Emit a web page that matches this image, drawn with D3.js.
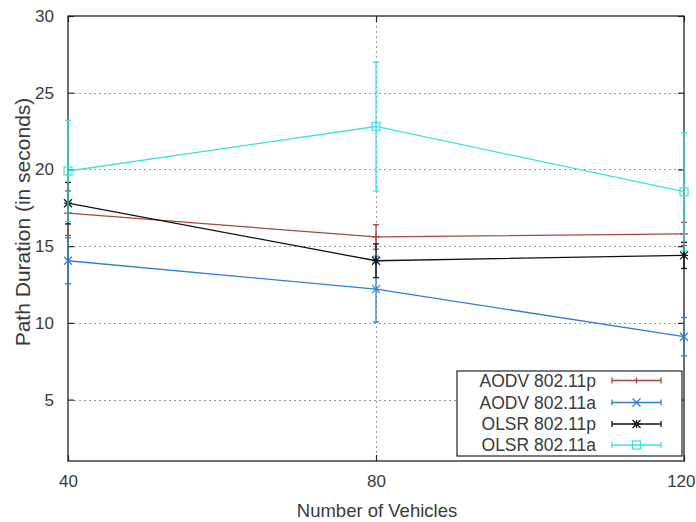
<!DOCTYPE html>
<html>
<head>
<meta charset="utf-8">
<script src="https://cdn.jsdelivr.net/npm/d3@7"></script>
<style>
  html, body { margin: 0; padding: 0; background: #fff; }
  svg { display: block; }
  text { font-family: "Liberation Sans", Arial, sans-serif; fill: #3a3a3a; }
</style>
</head>
<body>
<script>
// ---- data ----
const vehicles = [40, 80, 120];
const xTicks = [40, 80, 120];
const yTicks = [5, 10, 15, 20, 25, 30];
const seriesNames = ["AODV 802.11p", "AODV 802.11a", "OLSR 802.11p", "OLSR 802.11a"];
const aodvP = [17.15, 15.6, 15.8];
const aodvPErr = [1.45, 0.8, 0.75];
const aodvA = [14.05, 12.2, 9.1];
const aodvAErr = [1.5, 2.15, 1.25];
const olsrP = [17.8, 14.05, 14.4];
const olsrPErr = [1.35, 1.1, 0.85];
const olsrA = [19.9, 22.8, 18.55];
const olsrAErr = [3.3, 4.2, 3.85];
const colors = ["#a9463f", "#2f7fd6", "#111111", "#3ee0e0"];
const markers = ["plus", "cross", "star", "square"];

const series = [
  { name: seriesNames[0], values: aodvP, errs: aodvPErr, color: colors[0], marker: markers[0] },
  { name: seriesNames[1], values: aodvA, errs: aodvAErr, color: colors[1], marker: markers[1] },
  { name: seriesNames[2], values: olsrP, errs: olsrPErr, color: colors[2], marker: markers[2] },
  { name: seriesNames[3], values: olsrA, errs: olsrAErr, color: colors[3], marker: markers[3] }
];

const W = 696, H = 522;
const L = 68, R = 684, T = 16, B = 461;

const svg = d3.select("body").append("svg").attr("width", W).attr("height", H);

const x = d3.scaleLinear().domain([40, 120]).range([L, R]);
const y = d3.scaleLinear().domain([1, 30]).range([B, T]);

// legend box geometry
const lg = { x0: 457, y0: 371, x1: 682, y1: 456 };

// grid
const grid = svg.append("g").attr("stroke", "#9a9a9a").attr("stroke-width", 1).attr("stroke-dasharray", "2,3");
yTicks.forEach(t => {
  const yy = Math.round(y(t)) + 0.5;
  if (t === 30) return;
  let xEnd = R;
  if (yy > lg.y0 && yy < lg.y1) xEnd = lg.x0;
  grid.append("line").attr("x1", L + 6).attr("x2", xEnd).attr("y1", yy).attr("y2", yy);
});
xTicks.forEach(t => {
  if (t === 40 || t === 120) return;
  const xx = Math.round(x(t)) + 0.5;
  grid.append("line").attr("x1", xx).attr("x2", xx).attr("y1", T).attr("y2", B - 6);
});

// axes via d3 axis (tick labels), inward tick marks drawn with axes too
const yAxisL = d3.axisLeft(y).tickValues(yTicks).tickSize(-6).tickPadding(14);
const gyl = svg.append("g").attr("transform", `translate(${L},0)`).call(yAxisL);
const yAxisR = d3.axisRight(y).tickValues(yTicks).tickSize(-6).tickFormat("");
const gyr = svg.append("g").attr("transform", `translate(${R},0)`).call(yAxisR);
const xAxisB = d3.axisBottom(x).tickValues(xTicks).tickSize(-6).tickPadding(20);
const gxb = svg.append("g").attr("transform", `translate(0,${B})`).call(xAxisB);
const xAxisT = d3.axisTop(x).tickValues(xTicks).tickSize(-6).tickFormat("");
const gxt = svg.append("g").attr("transform", `translate(0,${T})`).call(xAxisT);
[gyl, gyr, gxb, gxt].forEach(g => {
  g.select(".domain").remove();
  g.selectAll(".tick line").attr("stroke", "#222").attr("stroke-width", 1.2);
  g.selectAll("text").style("font-family", '"Liberation Sans", Arial, sans-serif')
    .style("font-size", "17px").attr("fill", "#3a3a3a");
});
gxb.selectAll("text").attr("dy", "0.71em").attr("y", 14);
// keep the last label inside the window
gxb.selectAll(".tick").filter(d => d === 120).select("text")
  .attr("text-anchor", "end").attr("x", W - 1 - x(120));

// plot border
svg.append("rect").attr("x", L).attr("y", T).attr("width", R - L).attr("height", B - T)
  .attr("fill", "none").attr("stroke", "#222").attr("stroke-width", 1.3);

// axis titles
svg.append("text").attr("x", 377).attr("y", 517).attr("text-anchor", "middle")
  .style("font-size", "18.5px").text("Number of Vehicles");
svg.append("text").attr("transform", "translate(30,222) rotate(-90)").attr("text-anchor", "middle")
  .style("font-size", "21px").text("Path Duration (in seconds)");

// marker drawing
function drawMarker(g, m, cx, cy, color) {
  const s = 4;
  const p = g.append("g").attr("stroke", color).attr("stroke-width", 1.2).attr("fill", "none");
  if (m === "plus" || m === "star") {
    p.append("line").attr("x1", cx - s).attr("x2", cx + s).attr("y1", cy).attr("y2", cy);
    p.append("line").attr("x1", cx).attr("x2", cx).attr("y1", cy - s).attr("y2", cy + s);
  }
  if (m === "cross" || m === "star") {
    p.append("line").attr("x1", cx - s).attr("x2", cx + s).attr("y1", cy - s).attr("y2", cy + s);
    p.append("line").attr("x1", cx - s).attr("x2", cx + s).attr("y1", cy + s).attr("y2", cy - s);
  }
  if (m === "square") {
    p.append("rect").attr("x", cx - 4).attr("y", cy - 4).attr("width", 8).attr("height", 8);
  }
}

const plot = svg.append("g");
series.forEach(s => {
  const g = plot.append("g");
  // error bars
  s.values.forEach((v, i) => {
    const xx = x(vehicles[i]);
    const y1 = y(v - s.errs[i]), y2 = y(v + s.errs[i]);
    g.append("line").attr("x1", xx).attr("x2", xx).attr("y1", y1).attr("y2", y2)
      .attr("stroke", s.color).attr("stroke-width", 1.3);
    [y1, y2].forEach(yy => {
      g.append("line").attr("x1", xx - 3).attr("x2", xx + 3).attr("y1", yy).attr("y2", yy)
        .attr("stroke", s.color).attr("stroke-width", 1.3);
    });
  });
  // line
  const line = d3.line().x((d, i) => x(vehicles[i])).y(d => y(d));
  g.append("path").datum(s.values).attr("d", line).attr("fill", "none")
    .attr("stroke", s.color).attr("stroke-width", 1.3);
  s.values.forEach((v, i) => drawMarker(g, s.marker, x(vehicles[i]), y(v), s.color));
});

// legend
const leg = svg.append("g");
leg.append("rect").attr("x", lg.x0).attr("y", lg.y0).attr("width", lg.x1 - lg.x0).attr("height", lg.y1 - lg.y0)
  .attr("fill", "#fff").attr("stroke", "#222").attr("stroke-width", 1.2);
const rowY = [380.5, 402.5, 424, 445];
series.forEach((s, i) => {
  const ry = rowY[i];
  leg.append("text").attr("x", 596).attr("y", ry + 6).attr("text-anchor", "end")
    .style("font-size", "17.5px").text(s.name);
  leg.append("line").attr("x1", 612).attr("x2", 661).attr("y1", ry).attr("y2", ry)
    .attr("stroke", s.color).attr("stroke-width", 1.3);
  [612, 661].forEach(xx => leg.append("line").attr("x1", xx).attr("x2", xx).attr("y1", ry - 3).attr("y2", ry + 3)
    .attr("stroke", s.color).attr("stroke-width", 1.3));
  if (s.marker === "plus") {
    leg.append("line").attr("x1", 636.5).attr("x2", 636.5).attr("y1", ry - 3).attr("y2", ry + 3)
      .attr("stroke", s.color).attr("stroke-width", 1.3);
  } else {
    drawMarker(leg, s.marker, 636.5, ry, s.color);
  }
});
</script>
</body>
</html>
